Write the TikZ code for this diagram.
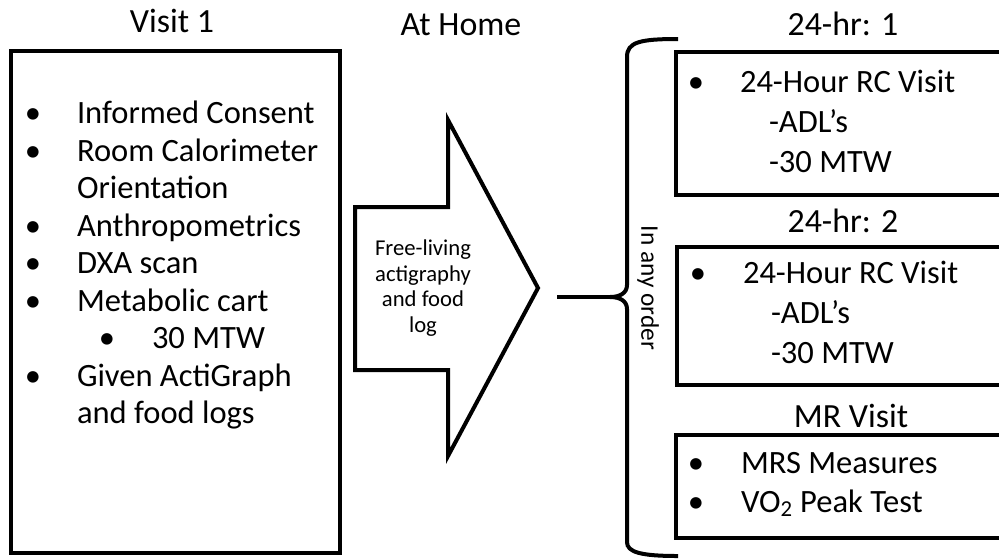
\documentclass[tikz,border=0pt]{standalone}
\usepackage{fontspec}
\setmainfont{Carlito}
\usetikzlibrary{fit}

\begin{document}
\begin{tikzpicture}[x = 0.75pt, y = -0.75pt, line width = 3pt,
	font = \fontsize{24.4}{29}\selectfont,
	panel/.style = {draw, inner sep = 0pt},
	item/.style = {anchor = base west, inner sep = 0pt},
	dot/.style = {anchor = base, inner sep = 0pt},
	heading/.style = {anchor = base, inner sep = 0pt, font = \fontsize{25.4}{30}\selectfont},
	small/.style = {font = \fontsize{17}{19.2}\selectfont}]

	\useasboundingbox (0, 0) rectangle (999, 558);
	\clip (0, 0) rectangle (999, 558);

	% Headings

	\node (visit) [heading] at (172, 32) {Visit 1};
	\node (athome) [heading] at (461, 35) {At Home};
	\node (hrone) [heading] at (843, 35) {24-hr: 1};
	\node (hrtwo) [heading] at (843, 232) {24-hr: 2};
	\node (mrvisit) [heading] at (851, 427) {MR Visit};

	% Visit 1 box

	\node (visitbox) [panel, fit = {(11, 51) (340, 553)}] {};

	\node (v1) [dot] at (33, 123) {\textbullet};
	\node (v1t) [item] at (75, 123) {Informed Consent};
	\node (v2) [dot] at (33, 161) {\textbullet};
	\node (v2t) [item] at (75, 161) {Room Calorimeter};
	\node (v2u) [item] at (75, 198) {Orientation};
	\node (v3) [dot] at (33, 236) {\textbullet};
	\node (v3t) [item] at (75, 236) {Anthropometrics};
	\node (v4) [dot] at (33, 273) {\textbullet};
	\node (v4t) [item] at (75, 273) {DXA scan};
	\node (v5) [dot] at (33, 311) {\textbullet};
	\node (v5t) [item] at (75, 311) {Metabolic cart};
	\node (v5s) [dot] at (107, 348) {\textbullet};
	\node (v5st) [item] at (150, 348) {30 MTW};
	\node (v6) [dot] at (33, 386) {\textbullet};
	\node (v6t) [item] at (75, 386) {Given ActiGraph};
	\node (v6u) [item] at (75, 423) {and food logs};

	% Block arrow for the time at home

	\draw [line join = miter] (355, 207) -- (448, 207) -- (448, 120) -- (538, 288)
		-- (448, 456) -- (448, 370) -- (355, 370) -- cycle;
	\node (home) [small, align = center] at (423, 288) {Free-living\\actigraphy\\and food\\log};

	% Brace round the three visits

	\coordinate (tail) at (557, 297);
	\coordinate (tip) at (610, 297);
	\draw (tail) -- (tip);
	\draw (678, 39) .. controls (640, 39) and (627, 42) .. (627, 57) -- (627, 285)
		.. controls (627, 293) and (620, 297) .. (tip)
		.. controls (620, 297) and (627, 301) .. (627, 309) -- (627, 542)
		.. controls (627, 552) and (640, 556) .. (678, 556);
	\node (order) [rotate = -90, font = \fontsize{19}{22}\selectfont] at (648, 288) {In any order};

	% 24-hr visit 1

	\node (rcone) [panel, fit = {(676, 52) (1010, 195)}] {};
	\node (a1) [dot] at (696, 92) {\textbullet};
	\node (a1t) [item] at (738, 92) {24-Hour RC Visit};
	\node (a2t) [item] at (767, 132) {-ADL’s};
	\node (a3t) [item] at (767, 172) {-30 MTW};

	% 24-hr visit 2

	\node (rctwo) [panel, fit = {(677, 247) (1010, 385)}] {};
	\node (b1) [dot] at (698, 283) {\textbullet};
	\node (b1t) [item] at (741, 283) {24-Hour RC Visit};
	\node (b2t) [item] at (769, 323) {-ADL’s};
	\node (b3t) [item] at (769, 363) {-30 MTW};

	% MR visit

	\node (mrbox) [panel, fit = {(676, 435) (1010, 538)}] {};
	\node (c1) [dot] at (696, 473) {\textbullet};
	\node (c1t) [item] at (739, 473) {MRS Measures};
	\node (c2) [dot] at (696, 512) {\textbullet};
	\node (c2t) [item] at (739, 512) {VO\textsubscript{2} Peak Test};

\end{tikzpicture}
\end{document}
